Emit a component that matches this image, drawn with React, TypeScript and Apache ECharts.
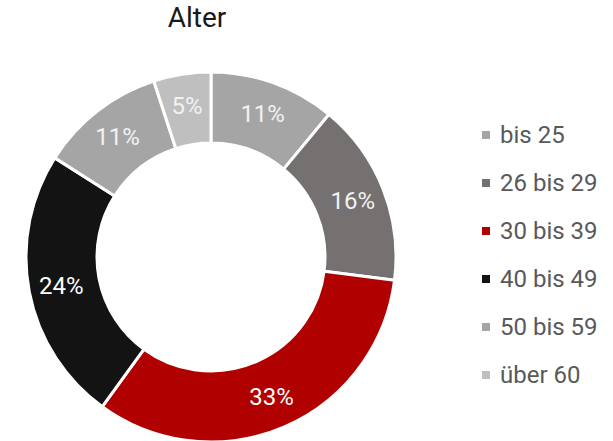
import React, { useEffect, useRef } from "react";
import * as echarts from "echarts";

const categories = ["bis 25", "26 bis 29", "30 bis 39", "40 bis 49", "50 bis 59", "über 60"];
const values = [11, 16, 33, 24, 11, 5];
const colors = ["#a5a5a5", "#767171", "#b00000", "#131313", "#a5a5a5", "#bfbfbf"];
const labelColors = ["#f2f2f2", "#f2f2f2", "#ffffff", "#ffffff", "#f2f2f2", "#f2f2f2"];

export default function App() {
  const ref = useRef<HTMLDivElement>(null);
  useEffect(() => {
    if (!ref.current) return;
    const chart = echarts.init(ref.current, null, { renderer: "svg" });
    chart.setOption({
      animation: false,
      title: {
        text: "Alter",
        left: 197,
        top: 3,
        padding: 0,
        textAlign: "center",
        textStyle: { fontFamily: "Roboto", fontSize: 28, fontWeight: "normal", color: "#1a1a1a" },
      },
      legend: {
        orient: "vertical",
        left: 480,
        top: 123,
        padding: 0,
        itemWidth: 10,
        itemHeight: 10,
        itemGap: 24,
        icon: "rect",
        textStyle: { fontFamily: "Roboto", fontSize: 24, color: "#595959", padding: [0, 0, 0, 4] },
        data: categories,
      },
      series: [
        {
          type: "pie",
          center: [211, 257],
          radius: [114, 185],
          startAngle: 90,
          clockwise: true,
          itemStyle: { borderColor: "#ffffff", borderWidth: 3 },
          label: {
            show: true,
            position: "inside",
            fontFamily: "Roboto",
            fontSize: 24,
            formatter: "{c}%",
          },
          labelLine: { show: false },
          emphasis: { disabled: true },
          data: categories.map((name, i) => ({
            name,
            value: values[i],
            itemStyle: { color: colors[i] },
            label: { color: labelColors[i] },
          })),
        },
      ],
    });
    return () => chart.dispose();
  }, []);
  return (
    <div
      ref={ref}
      style={{ position: "absolute", left: 0, top: 0, width: 613, height: 441 }}
    />
  );
}
